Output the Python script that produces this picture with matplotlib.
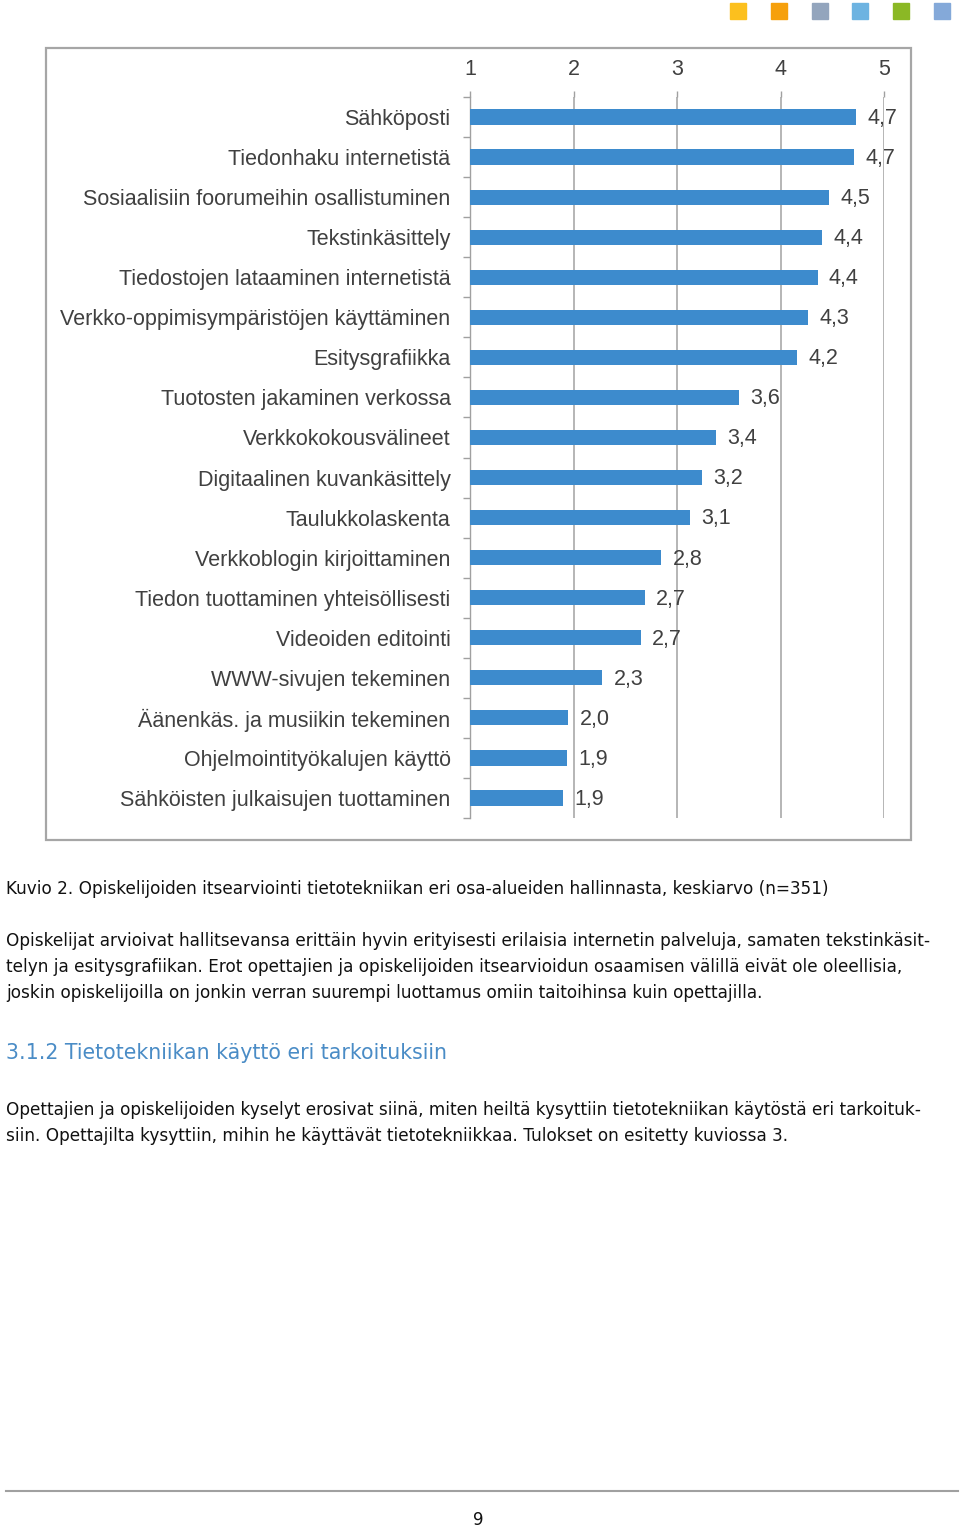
import matplotlib.pyplot as plt
from matplotlib.patches import Rectangle
import numpy as np

categories = [
    "Sähköposti",
    "Tiedonhaku internetistä",
    "Sosiaalisiin foorumeihin osallistuminen",
    "Tekstinkäsittely",
    "Tiedostojen lataaminen internetistä",
    "Verkko-oppimisympäristöjen käyttäminen",
    "Esitysgrafiikka",
    "Tuotosten jakaminen verkossa",
    "Verkkokokousvälineet",
    "Digitaalinen kuvankäsittely",
    "Taulukkolaskenta",
    "Verkkoblogin kirjoittaminen",
    "Tiedon tuottaminen yhteisöllisesti",
    "Videoiden editointi",
    "WWW-sivujen tekeminen",
    "Äänenkäs. ja musiikin tekeminen",
    "Ohjelmointityökalujen käyttö",
    "Sähköisten julkaisujen tuottaminen",
]
means = [4.73, 4.71, 4.47, 4.40, 4.36, 4.27, 4.16, 3.60, 3.38, 3.24,
         3.13, 2.85, 2.69, 2.65, 2.28, 1.95, 1.94, 1.90]
value_labels = ["4,7", "4,7", "4,5", "4,4", "4,4", "4,3", "4,2", "3,6", "3,4", "3,2",
                "3,1", "2,8", "2,7", "2,7", "2,3", "2,0", "1,9", "1,9"]
scale_ticks = [1, 2, 3, 4, 5]

W, H = 960, 1528
fig = plt.figure(figsize=(W / 100, H / 100), dpi=100)


def fx(px):
    return px / W


def fy(py):
    return 1 - py / H


# frame around the chart
fig.patches.append(Rectangle((fx(46), fy(840)), fx(911) - fx(46), fy(48) - fy(840),
                             transform=fig.transFigure, fill=False,
                             edgecolor="#a6a6a6", linewidth=1.6))

ax = fig.add_axes([fx(470), fy(818), fx(884) - fx(470), fy(97) - fy(818)])
n = len(categories)
ypos = np.arange(n)
ax.barh(ypos, [m - 1 for m in means], left=1, height=0.38, color="#3d8bcd", zorder=3)
ax.set_xlim(1, 5)
ax.set_ylim(n - 0.5, -0.5)

chart_font = dict(fontsize=15.5, color="#404040", family="Liberation Sans")

ax.set_yticks(ypos)
ax.set_yticklabels(categories, **chart_font)
ax.tick_params(axis="y", which="major", length=0, pad=14)
ax.set_yticks(np.arange(n + 1) - 0.5, minor=True)
ax.tick_params(axis="y", which="minor", length=5, color="#a0a0a0", width=1)

ax.xaxis.tick_top()
ax.set_xticks(scale_ticks)
ax.set_xticklabels([str(t) for t in scale_ticks], **chart_font)
ax.tick_params(axis="x", length=4, color="#a0a0a0", width=1, pad=8)
ax.grid(axis="x", color="#b0b0b0", linewidth=1.3, zorder=0)

for s in ["top", "right", "bottom"]:
    ax.spines[s].set_visible(False)
ax.spines["left"].set_color("#a0a0a0")
ax.spines["left"].set_linewidth(1)

for i, (m, lab) in enumerate(zip(means, value_labels)):
    ax.annotate(lab, (m, i), xytext=(8, -1), textcoords="offset points",
                va="center", ha="left", **chart_font)

# decorative squares at top right
square_colors = ["#fcc01e", "#f6a00c", "#93a5bd", "#6db3e1", "#8bb825", "#84a9d9"]
square_x = [730, 771, 812, 852, 893, 934]
for c, x0 in zip(square_colors, square_x):
    fig.patches.append(Rectangle((fx(x0), fy(19)), fx(16), fy(3) - fy(19),
                                 transform=fig.transFigure, color=c))

body = dict(fontsize=12.2, color="#111111", family="DejaVu Sans", va="center", ha="left")
fig.text(fx(6), fy(889), "Kuvio 2. Opiskelijoiden itsearviointi tietotekniikan eri osa-alueiden "
         "hallinnasta, keskiarvo (n=351)", **body)
lines = [
    "Opiskelijat arvioivat hallitsevansa erittäin hyvin erityisesti erilaisia internetin palveluja, samaten tekstinkäsit-",
    "telyn ja esitysgrafiikan. Erot opettajien ja opiskelijoiden itsearvioidun osaamisen välillä eivät ole oleellisia,",
    "joskin opiskelijoilla on jonkin verran suurempi luottamus omiin taitoihinsa kuin opettajilla.",
]
for k, line in enumerate(lines):
    fig.text(fx(6), fy(941 + 26 * k), line, **body)

fig.text(fx(6), fy(1053), "3.1.2 Tietotekniikan käyttö eri tarkoituksiin",
         fontsize=14.8, color="#4a8cc6", family="DejaVu Sans", va="center", ha="left")

lines2 = [
    "Opettajien ja opiskelijoiden kyselyt erosivat siinä, miten heiltä kysyttiin tietotekniikan käytöstä eri tarkoituk-",
    "siin. Opettajilta kysyttiin, mihin he käyttävät tietotekniikkaa. Tulokset on esitetty kuviossa 3.",
]
for k, line in enumerate(lines2):
    fig.text(fx(6), fy(1110 + 26 * k), line, **body)

fig.add_artist(plt.Line2D([fx(6), fx(958)], [fy(1491), fy(1491)],
                          transform=fig.transFigure, color="#a0a0a0", linewidth=1.5))
fig.text(fx(478), fy(1520), "9", fontsize=12, color="#111111", family="DejaVu Sans",
         ha="center", va="center")

fig.savefig("out.png", dpi=100)
